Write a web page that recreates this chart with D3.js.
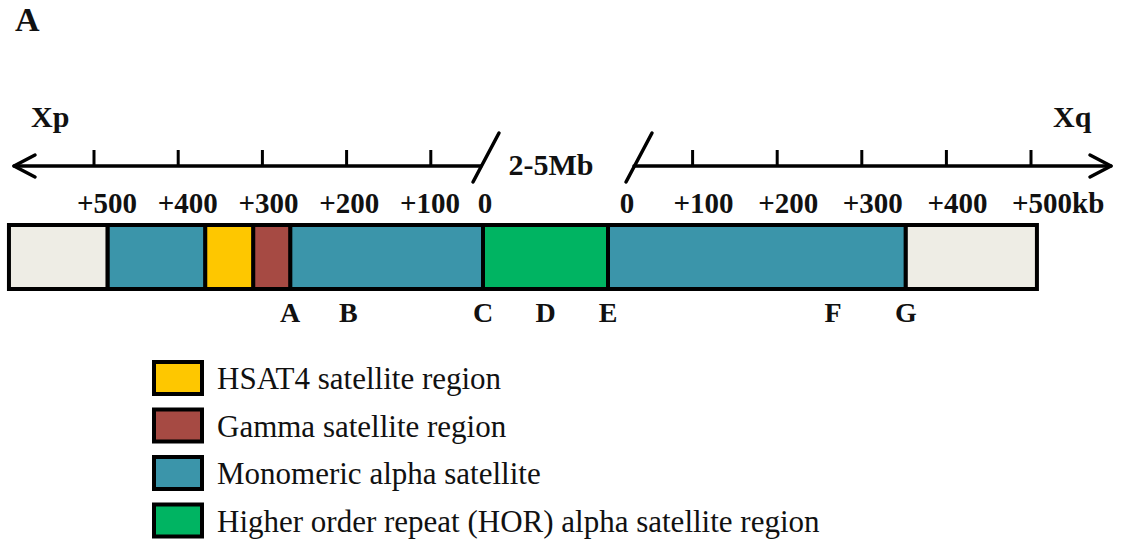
<!DOCTYPE html>
<html>
<head>
<meta charset="utf-8">
<script src="https://cdn.jsdelivr.net/npm/d3@7"></script>
<style>
  body { margin: 0; background: #fff; }
  svg { display: block; }
</style>
</head>
<body>
<svg id="chart" width="1125" height="548"></svg>
<script>
// ---- Region types and their fills ----
const regionTypes  = ["unassigned", "mono", "hsat4", "gamma", "hor"];
const regionColors = ["#eeede5", "#3b95aa", "#fec700", "#a64a43", "#00b462"];

// ---- Xp arm segments (kb away from the HOR array) ----
const pArmStart = [0,   229, 273, 330, 446];
const pArmEnd   = [229, 273, 330, 446, 563];
const pArmType  = ["mono", "gamma", "hsat4", "mono", "unassigned"];

// ---- Xq arm segments (kb away from the HOR array) ----
const qArmStart = [0,   352];
const qArmEnd   = [352, 507];
const qArmType  = ["mono", "unassigned"];

// ---- Axis ticks ----
const tickValues  = [100, 200, 300, 400, 500];
const pTickLabels = ["+100", "+200", "+300", "+400", "+500"];
const qTickLabels = ["+100", "+200", "+300", "+400", "+500kb"];

// ---- Named sites under the bar (cen: fraction across the HOR array) ----
const siteNames = ["A", "B", "C", "D", "E", "F", "G"];
const siteArm   = ["p", "p", "p", "cen", "q", "q", "q"];
const siteKb    = [229, 160, 0, 0.5, 0, 266, 352];

// ---- Legend ----
const legendTypes  = ["hsat4", "gamma", "mono", "hor"];
const legendLabels = [
  "HSAT4 satellite region",
  "Gamma satellite region",
  "Monomeric alpha satellite",
  "Higher order repeat (HOR) alpha satellite region"
];

// ---- Layout ----
const axisY = 166, tickLen = 16;
const barTop = 225, barBottom = 289;
const serif = "'Liberation Serif', 'Times New Roman', Times, serif";

const svg = d3.select("#chart");

const color = d3.scaleOrdinal().domain(regionTypes).range(regionColors);

// axis scales (kb)
const pTick  = d3.scaleLinear().domain([0, 500]).range([515, 94]);
const qTick  = d3.scaleLinear().domain([0, 500]).range([608, 1031]);
const pLabel = d3.scaleLinear().domain([100, 500]).range([430, 107]);

// bar scales (kb), with the HOR array between the arms
const pBar = d3.scaleLinear().domain([0, 500]).range([483, 62]);
const qBar = qTick;
const horScale = d3.scaleLinear().domain([0, 1]).range([pBar(0), qBar(0)]);

function siteX(arm, v) {
  if (arm === "p") return pBar(v);
  if (arm === "q") return qBar(v);
  return horScale(v);
}

function addText(parent, x, y, str, opts = {}) {
  return parent.append("text")
    .attr("x", x).attr("y", y)
    .attr("text-anchor", opts.anchor || "middle")
    .attr("font-family", serif)
    .attr("font-weight", opts.weight || "bold")
    .attr("font-size", opts.size || 29)
    .attr("fill", "#111")
    .text(str);
}

// ---- Panel letter ----
addText(svg, 15, 31, "A", { anchor: "start", size: 34 });

// ---- Arm names ----
addText(svg, 31, 127, "Xp", { anchor: "start", size: 30 });
addText(svg, 1053, 127, "Xq", { anchor: "start", size: 30 });

// ---- Axis lines with break ----
const axis = svg.append("g")
  .attr("stroke", "#000").attr("fill", "none")
  .attr("stroke-width", 3.5).attr("stroke-linecap", "round");

const leftTip = 14, rightTip = 1111, leftEnd = 481, rightStart = 634;
axis.append("line").attr("x1", leftTip).attr("x2", leftEnd).attr("y1", axisY).attr("y2", axisY);
axis.append("line").attr("x1", rightStart).attr("x2", rightTip).attr("y1", axisY).attr("y2", axisY);
axis.append("path").attr("stroke-linejoin", "round")
  .attr("d", `M${leftTip + 21},${axisY - 11} L${leftTip},${axisY} L${leftTip + 21},${axisY + 11}`);
axis.append("path").attr("stroke-linejoin", "round")
  .attr("d", `M${rightTip - 21},${axisY - 11} L${rightTip},${axisY} L${rightTip - 21},${axisY + 11}`);
// break marks
axis.append("line").attr("x1", 473).attr("y1", 182).attr("x2", 499).attr("y2", 133);
axis.append("line").attr("x1", 626).attr("y1", 182).attr("x2", 652).attr("y2", 133);

// ticks
axis.selectAll(".pt").data(tickValues).join("line")
  .attr("x1", d => pTick(d)).attr("x2", d => pTick(d))
  .attr("y1", axisY - tickLen).attr("y2", axisY)
  .attr("stroke-width", 3).attr("stroke-linecap", "butt");
axis.selectAll(".qt").data(tickValues).join("line")
  .attr("x1", d => qTick(d)).attr("x2", d => qTick(d))
  .attr("y1", axisY - tickLen).attr("y2", axisY)
  .attr("stroke-width", 3).attr("stroke-linecap", "butt");

addText(svg, 551, 175, "2-5Mb", { size: 30 });

// tick labels
const labelY = 213;
tickValues.forEach((v, i) => addText(svg, pLabel(v), labelY, pTickLabels[i]));
tickValues.forEach((v, i) => addText(svg, qTick(v) - 19, labelY, qTickLabels[i], { anchor: "start" }));
addText(svg, pBar(0) + 2, labelY, "0");
addText(svg, qBar(0) + 19, labelY, "0");

// ---- Bar ----
const segments = [];
pArmStart.forEach((s, i) => segments.push({ x0: pBar(pArmEnd[i]), x1: pBar(s), type: pArmType[i] }));
segments.push({ x0: horScale(0), x1: horScale(1), type: "hor" });
qArmStart.forEach((s, i) => segments.push({ x0: qBar(s), x1: qBar(qArmEnd[i]), type: qArmType[i] }));

svg.append("g").selectAll("rect").data(segments).join("rect")
  .attr("x", d => d.x0).attr("y", barTop)
  .attr("width", d => d.x1 - d.x0).attr("height", barBottom - barTop)
  .attr("fill", d => color(d.type))
  .attr("stroke", "#000").attr("stroke-width", 4);

// site letters
siteNames.forEach((n, i) => addText(svg, siteX(siteArm[i], siteKb[i]), 322, n, { size: 28 }));

// ---- Legend ----
const legend = svg.append("g");
const legX = 154, legY0 = 362, legStep = 47.5, swW = 48, swH = 32;
legendTypes.forEach((t, i) => {
  const y = legY0 + i * legStep;
  legend.append("rect")
    .attr("x", legX).attr("y", y).attr("width", swW).attr("height", swH)
    .attr("fill", color(t)).attr("stroke", "#000").attr("stroke-width", 4);
  addText(legend, 217, y + 27, legendLabels[i], { anchor: "start", weight: "normal", size: 31 });
});
</script>
</body>
</html>
